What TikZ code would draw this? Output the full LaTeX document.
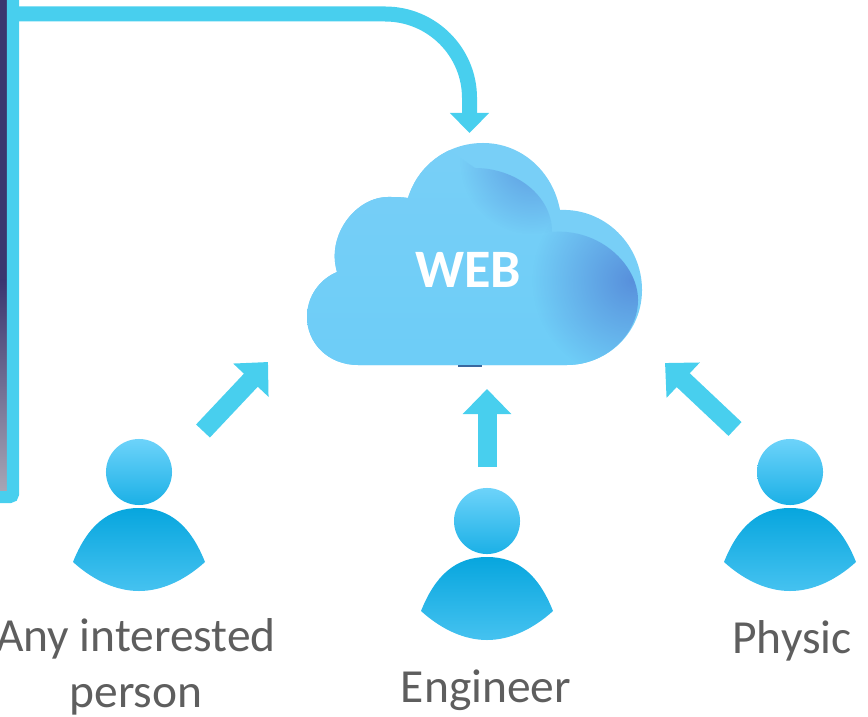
\documentclass[tikz,border=0pt]{standalone}
\usepackage{fontspec}
\setmainfont{Carlito}
\usetikzlibrary{arrows.meta,fadings}

\definecolor{wirecol}{HTML}{48CFEE}
\definecolor{cloudcol}{HTML}{6DCDF7}
\definecolor{rimcol}{HTML}{78CFF7}
\definecolor{shadecol}{HTML}{5890DC}
\definecolor{labelcol}{HTML}{5E5E5E}
\definecolor{headtop}{HTML}{6DD3FA}
\definecolor{headbot}{HTML}{1BB0E6}
\definecolor{bodytop}{HTML}{07A6DE}
\definecolor{bodybot}{HTML}{45C2F0}
\definecolor{striptop}{HTML}{3A3670}
\definecolor{stripbot}{HTML}{A8A6B5}

\tikzfading[name=softspot,inner color=transparent!0,outer color=transparent!100]

\newcommand{\cloudpath}{(358,365) .. controls (328,365) and (307,343) .. (307,317)
	.. controls (307,296) and (320,279) .. (337,272)
	.. controls (326,235) and (356,197) .. (388,197)
	.. controls (396,197) and (402,197) .. (408,198)
	.. controls (418,165) and (448,143) .. (483,143)
	.. controls (522,143) and (553,172) .. (560,210)
	.. controls (605,208) and (642,245) .. (642,290)
	.. controls (642,332) and (608,365) .. (567,365) -- cycle}

\tikzset{
	wire/.style={line width=0.15cm,draw=wirecol,-{Triangle[length=0.2cm,width=0.38cm]}},
	blockarrow/.style={line width=0.19cm,draw=wirecol,-{Triangle[length=0.25cm,width=0.47cm]}},
	frameline/.style={line width=0.12cm,draw=wirecol,rounded corners=0.03cm},
	weblabel/.style={text=white,font=\fontsize{15.4pt}{17pt}\selectfont\bfseries},
	personlabel/.style={text=labelcol,font=\fontsize{13.5pt}{15.8pt}\selectfont,align=center},
	headball/.style={circle,minimum size=0.66cm,inner sep=0pt,top color=headtop,bottom color=headbot},
	softpatch/.style={fill=shadecol,path fading=softspot},
	person/.pic={
		\node[headball] (-head) at (0,0) {};
		\shade[top color=bodytop,bottom color=bodybot] (-66,90)
			.. controls (-52,55) and (-32,36) .. (0,36)
			.. controls (32,36) and (52,55) .. (66,90)
			.. controls (45,109) and (22,119) .. (0,119)
			.. controls (-22,119) and (-45,109) .. (-66,90) -- cycle;
	}
}

\begin{document}
\begin{tikzpicture}[x=0.01cm,y=-0.01cm]
	\path[use as bounding box,clip] (0,0) rectangle (868,716);

	% screen strip and its frame
	\fill[striptop] (0,0) rectangle (7,281);
	\shade[top color=striptop,bottom color=stripbot] (0,280) rectangle (7,492);
	\draw[frameline] (-30,-30) rectangle (13,497);

	% cloud
	\fill[rimcol] \cloudpath;
	\begin{scope}
		\clip \cloudpath;
		\clip (475,168) .. controls (515,168) and (552,195) .. (552,232)
			.. controls (600,228) and (638,265) .. (638,300)
			.. controls (638,335) and (605,365) .. (567,365)
			-- (567,380) -- (290,380) -- (290,130) -- (420,130) -- cycle;
		\shade[top color=rimcol,bottom color=cloudcol] (300,140) rectangle (650,370);
		\path[softpatch] (632,280) circle (100);
		\path[softpatch,opacity=0.8] (532,162) circle (72);
	\end{scope}
	\fill[cyan!50!blue!75!black] (458,365) rectangle (482,367);
	\node[weblabel] (web) at (468,270) {WEB};

	% people
	\path (139,472) pic (p1) {person};
	\path (487,521) pic (p2) {person};
	\path (790,472) pic (p3) {person};

	\node[personlabel] (l1) at (136,667) {Any interested\\person};
	\node[personlabel] (l2) at (486,690) {Engineer};
	\node[personlabel] (l3) at (792,641) {Physic};

	% connectors
	\coordinate (framecorner) at (19,14);
	\coordinate (cloudtop) at (469.5,133);
	\coordinate (s1) at (203,431);
	\coordinate (t1) at (268,362);
	\coordinate (s2) at (487,467);
	\coordinate (t2) at (487,389);
	\coordinate (s3) at (735,429);
	\coordinate (t3) at (665,363);

	\draw[wire] (framecorner) -- (385,14) .. controls (432,14) and (469.5,52) .. (469.5,98) -- (cloudtop);
	\draw[blockarrow] (s1) -- (t1);
	\draw[blockarrow] (s2) -- (t2);
	\draw[blockarrow] (s3) -- (t3);
\end{tikzpicture}
\end{document}
